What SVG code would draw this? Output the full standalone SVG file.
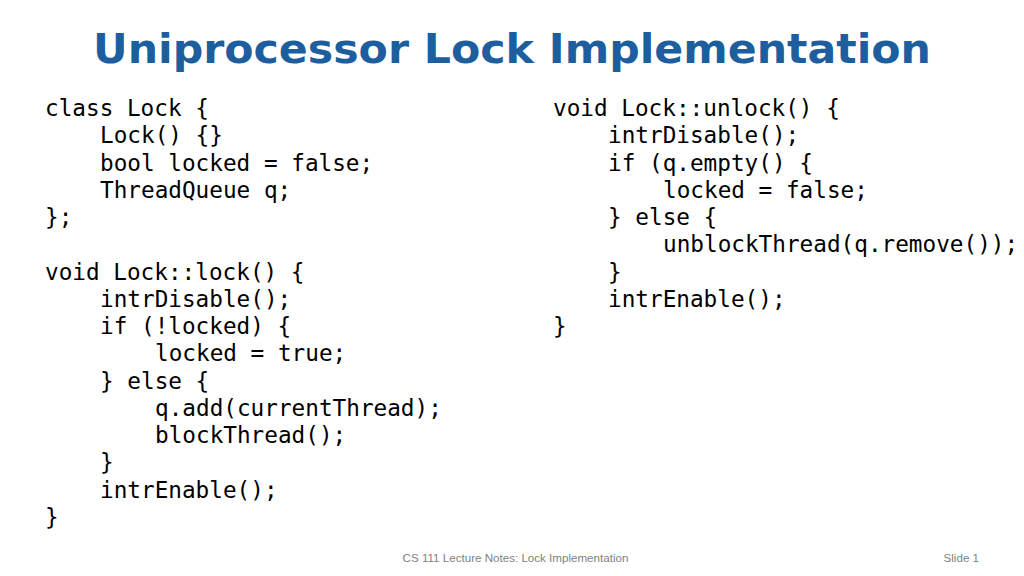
<svg xmlns="http://www.w3.org/2000/svg" width="1024" height="576" viewBox="0 0 1024 576">
<style>
.title{font-family:"DejaVu Sans",Verdana,sans-serif;font-weight:bold;font-size:40px;fill:#1c5e9e}
.code{font-family:"DejaVu Sans Mono","Liberation Mono",monospace;font-size:22.7px;fill:#000}
.foot{font-family:"Liberation Sans",Arial,sans-serif;font-size:11.6px;fill:#7f7f7f}
</style>
<rect width="1024" height="576" fill="#fff"/>
<text id="title" class="title" x="512" y="63" text-anchor="middle" textLength="838" lengthAdjust="spacingAndGlyphs">Uniprocessor Lock Implementation</text>
<g id="left-code" class="code">
<text x="45" y="116">class Lock {</text>
<text x="100" y="143.25">Lock() {}</text>
<text x="100" y="170.5">bool locked = false;</text>
<text x="100" y="197.75">ThreadQueue q;</text>
<text x="45" y="225">};</text>
<text x="45" y="279.5">void Lock::lock() {</text>
<text x="100" y="306.75">intrDisable();</text>
<text x="100" y="334">if (!locked) {</text>
<text x="155" y="361.25">locked = true;</text>
<text x="100" y="388.5">} else {</text>
<text x="155" y="415.75">q.add(currentThread);</text>
<text x="155" y="443">blockThread();</text>
<text x="100" y="470.25">}</text>
<text x="100" y="497.5">intrEnable();</text>
<text x="45" y="524.75">}</text>
</g>
<g id="right-code" class="code">
<text x="553" y="116">void Lock::unlock() {</text>
<text x="608" y="143.25">intrDisable();</text>
<text x="608" y="170.5">if (q.empty() {</text>
<text x="663" y="197.75">locked = false;</text>
<text x="608" y="225">} else {</text>
<text x="663" y="252.25">unblockThread(q.remove());</text>
<text x="608" y="279.5">}</text>
<text x="608" y="306.75">intrEnable();</text>
<text x="553" y="334">}</text>
</g>
<g id="footer" class="foot">
<text x="515.5" y="562" text-anchor="middle">CS 111 Lecture Notes: Lock Implementation</text>
<text x="979" y="562" text-anchor="end">Slide 1</text>
</g>
</svg>
